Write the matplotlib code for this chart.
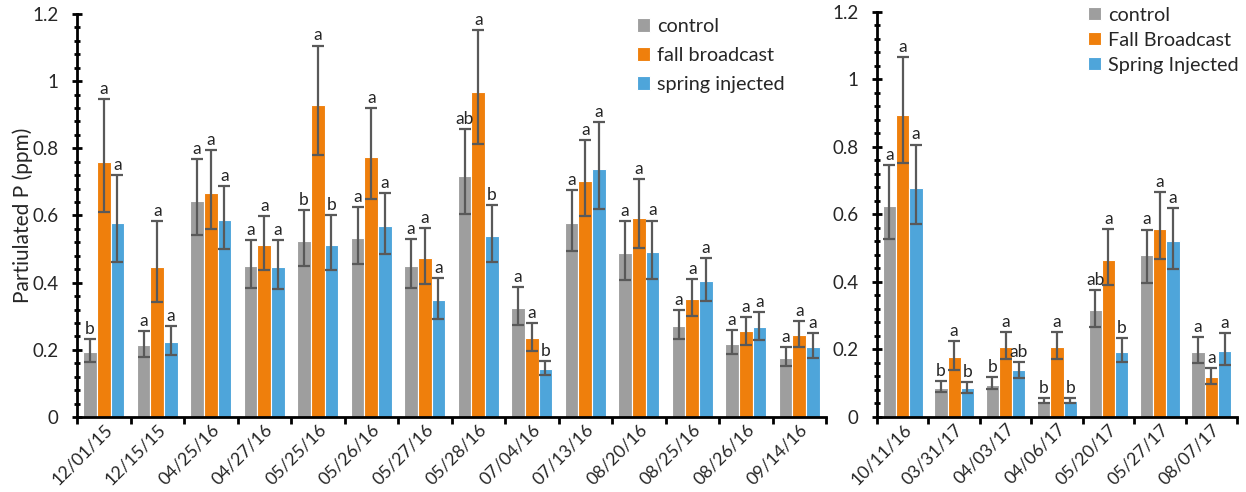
import matplotlib
matplotlib.use("Agg")
import matplotlib.pyplot as plt
import matplotlib.transforms as mtransforms
import numpy as np
from matplotlib.ticker import MultipleLocator, FixedLocator

# ---------------- data ----------------
dates_L = ["12/01/15", "12/15/15", "04/25/16", "04/27/16", "05/25/16", "05/26/16", "05/27/16",
           "05/28/16", "07/04/16", "07/13/16", "08/20/16", "08/25/16", "08/26/16", "09/14/16"]
control_L = [0.193, 0.215, 0.643, 0.449, 0.524, 0.534, 0.451, 0.717, 0.326, 0.579, 0.487, 0.271, 0.217, 0.177]
control_L_up = [0.038, 0.041, 0.125, 0.079, 0.092, 0.091, 0.078, 0.141, 0.061, 0.098, 0.097, 0.047, 0.041, 0.030]
control_L_dn = [0.029, 0.036, 0.102, 0.064, 0.074, 0.077, 0.066, 0.112, 0.053, 0.085, 0.078, 0.039, 0.030, 0.025]
fall_L = [0.758, 0.446, 0.668, 0.512, 0.928, 0.774, 0.473, 0.968, 0.234, 0.702, 0.594, 0.351, 0.255, 0.243]
fall_L_up = [0.188, 0.137, 0.128, 0.086, 0.178, 0.146, 0.090, 0.185, 0.045, 0.122, 0.114, 0.060, 0.042, 0.043]
fall_L_dn = [0.147, 0.105, 0.109, 0.075, 0.148, 0.125, 0.076, 0.155, 0.038, 0.104, 0.092, 0.051, 0.040, 0.034]
spring_L = [0.577, 0.223, 0.588, 0.446, 0.512, 0.568, 0.348, 0.540, 0.143, 0.738, 0.491, 0.405, 0.268, 0.207]
spring_L_up = [0.143, 0.048, 0.100, 0.081, 0.089, 0.099, 0.066, 0.092, 0.024, 0.139, 0.094, 0.068, 0.045, 0.042]
spring_L_dn = [0.115, 0.039, 0.087, 0.064, 0.075, 0.083, 0.055, 0.078, 0.019, 0.119, 0.079, 0.059, 0.039, 0.031]
letters_control_L = ["b", "a", "a", "a", "b", "a", "a", "ab", "a", "a", "a", "a", "a", "a"]
letters_fall_L = ["a"] * 14
letters_spring_L = ["a", "a", "a", "a", "b", "a", "a", "b", "b", "a", "a", "a", "a", "a"]

dates_R = ["10/11/16", "03/31/17", "04/03/17", "04/06/17", "05/20/17", "05/27/17", "08/07/17"]
control_R = [0.624, 0.086, 0.095, 0.044, 0.316, 0.479, 0.193]
control_R_up = [0.122, 0.021, 0.022, 0.012, 0.059, 0.076, 0.043]
control_R_dn = [0.098, 0.014, 0.013, 0.004, 0.051, 0.082, 0.033]
fall_R = [0.896, 0.177, 0.207, 0.207, 0.464, 0.557, 0.118]
fall_R_up = [0.171, 0.048, 0.043, 0.043, 0.092, 0.108, 0.026]
fall_R_dn = [0.143, 0.040, 0.036, 0.036, 0.074, 0.090, 0.021]
spring_R = [0.677, 0.084, 0.137, 0.047, 0.193, 0.521, 0.196]
spring_R_up = [0.130, 0.018, 0.025, 0.009, 0.040, 0.098, 0.053]
spring_R_dn = [0.106, 0.014, 0.022, 0.007, 0.031, 0.084, 0.043]
letters_control_R = ["a", "b", "b", "b", "ab", "a", "a"]
letters_fall_R = ["a"] * 7
letters_spring_R = ["a", "b", "ab", "b", "b", "a", "a"]

ytick_labels = ["0", "0.2", "0.4", "0.6", "0.8", "1", "1.2"]
legend_L = ["control", "fall broadcast", "spring injected"]
legend_R = ["control", "Fall Broadcast", "Spring Injected"]
ylabel = "Partiulated P (ppm)"

# ---------------- style ----------------
plt.rcParams['font.family'] = ['Lato', 'DejaVu Sans']
colors = ["#9E9E9E", "#EF7F0C", "#4EA5DA"]
err_color = "#595959"
text_color = "#262626"
W, H = 1246, 492
fig = plt.figure(figsize=(W / 100, H / 100), dpi=100)

axL = fig.add_axes([77 / W, 1 - 417 / H, 749 / W, (417 - 14) / H])
axR = fig.add_axes([877 / W, 1 - 416.7 / H, 360 / W, (416.7 - 12) / H])

bw = 0.257


def draw(ax, dates, series, ups, dns, letters, labels, legend_kw):
    x = np.arange(len(dates))
    handles = []
    for i, (vals, up, dn, let, lab, col) in enumerate(zip(series, ups, dns, letters, labels, colors)):
        xs = x + (i - 1) * bw
        b = ax.bar(xs, vals, width=bw, color=col, edgecolor="white", linewidth=0.8, label=lab, zorder=2)
        handles.append(b)
        ax.errorbar(xs, vals, yerr=[dn, up], fmt="none", ecolor=err_color, elinewidth=1.6,
                    capsize=4, capthick=1.6, zorder=3)
        for xx, v, u, t in zip(xs, vals, up, let):
            ax.annotate(t, (xx, v + u), xytext=(0, 1.5), textcoords="offset points",
                        ha="center", va="bottom", fontsize=12.5, color=text_color)
    ax.set_xlim(-0.5, len(dates) - 0.5)
    ax.set_ylim(0, 1.2)
    ax.set_xticks(x)
    ax.set_xticklabels(dates, rotation=45, ha="right", rotation_mode="anchor", fontsize=12.8,
                       color=text_color)
    shift = mtransforms.ScaledTranslation(5 / 100, 0, fig.dpi_scale_trans)
    for lbl in ax.get_xticklabels():
        lbl.set_transform(lbl.get_transform() + shift)
    ax.xaxis.set_minor_locator(FixedLocator(np.arange(len(dates) + 1) - 0.5))
    ax.tick_params(axis="x", which="major", length=0, pad=3)
    ax.tick_params(axis="x", which="minor", length=5, width=2, direction="out", color="black")
    ax.set_yticks([0, 0.2, 0.4, 0.6, 0.8, 1.0, 1.2])
    ax.yaxis.set_minor_locator(MultipleLocator(0.04))
    ax.set_yticklabels(ytick_labels, fontsize=13.5, color=text_color)
    ax.tick_params(axis="y", which="major", length=7, width=2, direction="inout", pad=10)
    ax.tick_params(axis="y", which="minor", length=5, width=2, direction="inout")
    for s in ["top", "right"]:
        ax.spines[s].set_visible(False)
    for s in ["left", "bottom"]:
        ax.spines[s].set_linewidth(2)
        ax.spines[s].set_color("black")
    ax.legend(handles=handles, frameon=False, handlelength=0.65, handleheight=0.65,
              handletextpad=0.35, borderpad=0, borderaxespad=0, loc="upper left",
              fontsize=14.3, labelcolor=text_color, **legend_kw)


draw(axL, dates_L, [control_L, fall_L, spring_L], [control_L_up, fall_L_up, spring_L_up],
     [control_L_dn, fall_L_dn, spring_L_dn], [letters_control_L, letters_fall_L, letters_spring_L],
     legend_L, dict(bbox_to_anchor=((637 - 77) / 749, 0.99), labelspacing=0.6))
draw(axR, dates_R, [control_R, fall_R, spring_R], [control_R_up, fall_R_up, spring_R_up],
     [control_R_dn, fall_R_dn, spring_R_dn], [letters_control_R, letters_fall_R, letters_spring_R],
     legend_R, dict(bbox_to_anchor=((1088 - 877) / 360, 1.013), labelspacing=0.4))

axL.set_ylabel(ylabel, fontsize=15, color=text_color, labelpad=-1)

fig.savefig("out.png", dpi=100)
